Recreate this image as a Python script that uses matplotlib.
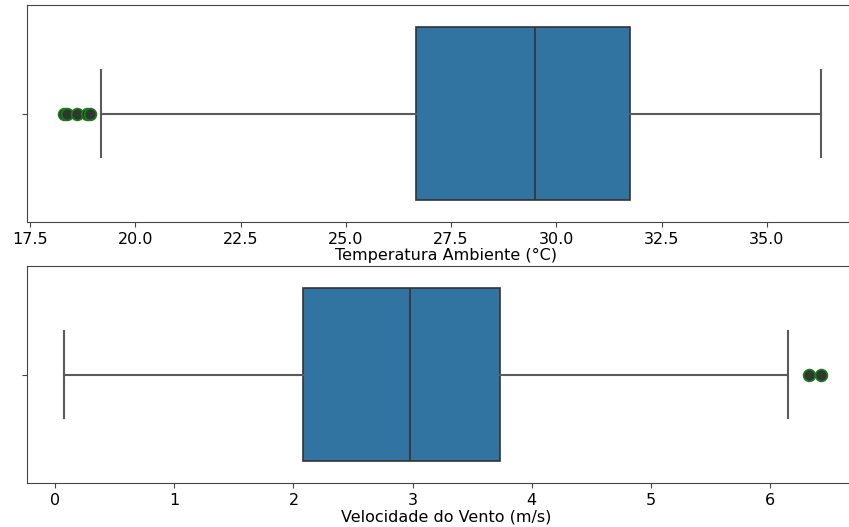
import matplotlib
matplotlib.use("Agg")
import matplotlib.pyplot as plt

# Summary statistics for each variable
temp_label = "Temperatura Ambiente (°C)"
temp_whislo, temp_q1, temp_med, temp_q3, temp_whishi = 19.18, 26.67, 29.50, 31.75, 36.28
temp_fliers = [18.30, 18.37, 18.62, 18.85, 18.93]

wind_label = "Velocidade do Vento (m/s)"
wind_whislo, wind_q1, wind_med, wind_q3, wind_whishi = 0.07, 2.08, 2.98, 3.73, 6.155
wind_fliers = [6.33, 6.43]

temp_ticks = [17.5, 20.0, 22.5, 25.0, 27.5, 30.0, 32.5, 35.0]
wind_ticks = [0, 1, 2, 3, 4, 5, 6]

BOX_COLOR = "#3274a1"
LINE_COLOR = "#5a5a5a"
MED_COLOR = "#333333"


def draw_box(ax, whislo, q1, med, q3, whishi, fliers):
    stats = [dict(whislo=whislo, q1=q1, med=med, q3=q3, whishi=whishi, fliers=fliers)]
    ax.bxp(
        stats, positions=[0], widths=0.8, vert=False, patch_artist=True,
        boxprops=dict(facecolor=BOX_COLOR, edgecolor=MED_COLOR, linewidth=1.2),
        medianprops=dict(color=MED_COLOR, linewidth=1.2),
        whiskerprops=dict(color=LINE_COLOR, linewidth=1.5),
        capprops=dict(color=LINE_COLOR, linewidth=1.5),
        capwidths=0.4,
        flierprops=dict(marker="o", markersize=8.5, markerfacecolor="#2f382f",
                        markeredgecolor="#1d7a1d", markeredgewidth=1.2, linestyle="none"),
    )
    ax.set_ylim(0.5, -0.5)
    ax.set_yticks([0])
    ax.set_yticklabels([""])
    for s in ax.spines.values():
        s.set_color("#444444")
    ax.tick_params(colors="#444444", labelcolor="black", labelsize=11.5)


fig = plt.figure(figsize=(8.49, 5.27), dpi=100)
W, H = 849, 527
RIGHT = 866

ax1 = fig.add_axes([26.7 / W, (H - 222) / H, (RIGHT - 26.7) / W, 217 / H])
draw_box(ax1, temp_whislo, temp_q1, temp_med, temp_q3, temp_whishi, temp_fliers)
ax1.set_xlim(17.42, 17.42 + (RIGHT - 26.7) / 42.1)
ax1.set_xticks(temp_ticks)
ax1.set_xticklabels([f"{t:.1f}" for t in temp_ticks])
ax1.set_xlabel(temp_label, fontsize=11.5, labelpad=1)

ax2 = fig.add_axes([26.7 / W, (H - 483) / H, (RIGHT - 26.7) / W, 217 / H])
draw_box(ax2, wind_whislo, wind_q1, wind_med, wind_q3, wind_whishi, wind_fliers)
ax2.set_xlim(-0.24, -0.24 + (RIGHT - 26.7) / 119.1)
ax2.set_xticks(wind_ticks)
ax2.set_xticklabels([str(t) for t in wind_ticks])
ax2.set_xlabel(wind_label, fontsize=11.5, labelpad=1)

fig.savefig("out.png", dpi=100)
